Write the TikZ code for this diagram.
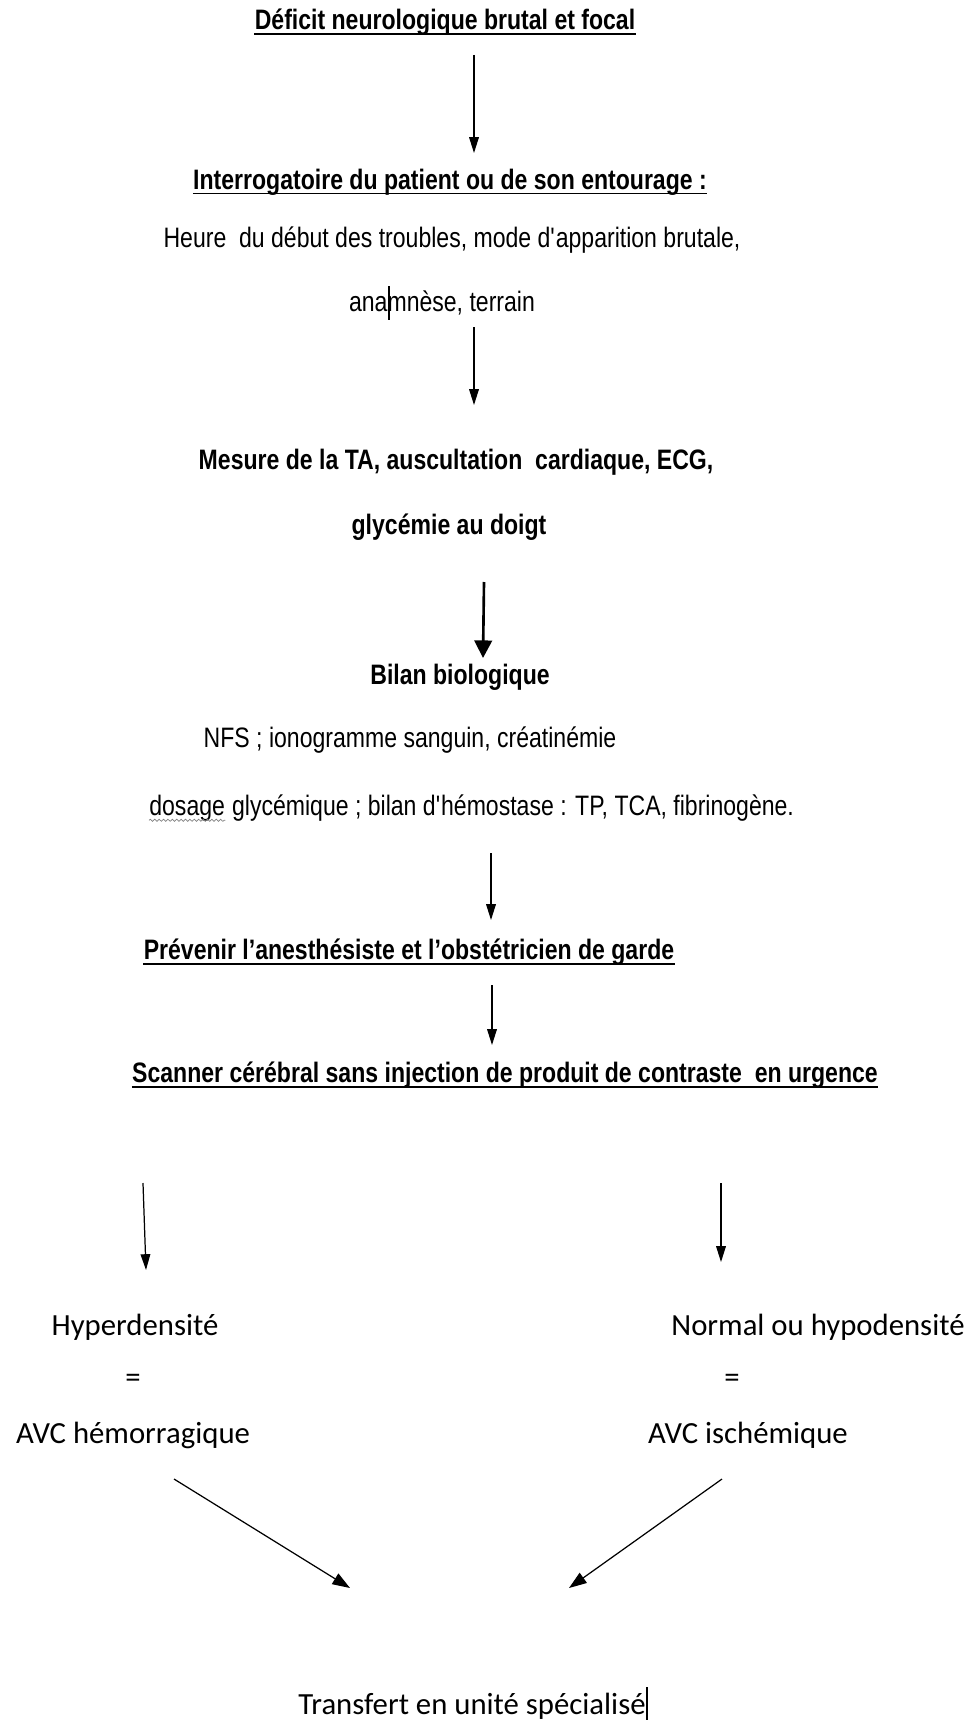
\documentclass[tikz,border=0pt]{standalone}
\usepackage{fontspec}
\setmainfont{Carlito}
\newfontfamily\narrow[FakeStretch=0.82]{Liberation Sans}
\usetikzlibrary{arrows.meta,positioning,decorations.pathmorphing}
\newcommand{\curseur}{\rlap{\rule[-0.3em]{0.08em}{1.2em}}}

\begin{document}
\begin{tikzpicture}[x=0.02cm, y=-0.02cm,
	txt/.style={font=\narrow\fontsize{16}{19}\selectfont, inner sep=0pt},
	txtb/.style={font=\narrow\fontsize{16}{19}\selectfont\bfseries, inner sep=0pt},
	cal/.style={font=\fontsize{17.5}{21}\selectfont, inner sep=0pt},
	fl/.style={-{Triangle[length=9pt,width=5.5pt]}, line width=0.7pt},
	fld/.style={-{Triangle[length=10pt,width=7pt]}, line width=0.7pt},
	flg/.style={-{Triangle[length=10pt,width=10pt]}, line width=1.5pt}]

\useasboundingbox (0,0) rectangle (972,1720);

% texts %{{{2

	\node[txtb] (titre) at (445,22) {Déficit neurologique brutal et focal};
	\node[txtb] (interro) at (450,182) {Interrogatoire du patient ou de son entourage :};
	\node[txt] (heure) at (452,240) {Heure\ \ du début des troubles, mode d\textquotesingle apparition brutale,};
	\node[txt] (anamnese) at (442,303) {ana\curseur mnèse, terrain};
	\node[txtb] (mesure) at (456,462) {Mesure de la TA, auscultation\ \ cardiaque, ECG,};
	\node[txtb] (glycemie) at (449,527) {glycémie au doigt};
	\node[txtb] (bilan) at (460,677) {Bilan biologique};
	\node[txt] (nfs) at (410,740) {NFS ; ionogramme sanguin, créatinémie};
	\node[txt, anchor=base west] (dosage) at (149,815) {dosage};
	\node[txt, base right=0pt of dosage] (dosrest) {\ glycémique ; bilan d\textquotesingle hémostase : TP, TCA, fibrinogène.};
	\node[txtb] (prevenir) at (409,952) {Prévenir l’anesthésiste et l’obstétricien de garde};
	\node[txtb] (scanner) at (505,1075) {Scanner cérébral sans injection de produit de contraste\ \ en urgence};

	\node[cal] (hyper) at (135,1327) {Hyperdensité};
	\node[cal] (egal1) at (133,1381) {=};
	\node[cal] (hemo) at (133,1435) {AVC hémorragique};
	\node[cal] (normal) at (818,1327) {Normal ou hypodensité};
	\node[cal] (egal2) at (732,1381) {=};
	\node[cal] (ischem) at (748,1435) {AVC ischémique};
	\node[cal] (transfert) at (472,1705) {Transfert en unité spécialisé\curseur};

% underlines %{{{2

	\foreach \n in {titre,interro,prevenir,scanner}
	{ \draw[line width=0.9pt] ([yshift=-2.5pt]\n.base west) -- ([yshift=-2.5pt]\n.base east); }

	\draw[gray, line width=0.4pt, decorate, decoration={snake, amplitude=0.6pt, segment length=2.5pt}]
	([yshift=-3pt]dosage.base west) -- ([yshift=-3pt]dosage.base east);

% arrows %{{{2

	\coordinate (f1a) at (474,55);   \coordinate (f1b) at (474,153);
	\coordinate (f2a) at (474,327);  \coordinate (f2b) at (474,405);
	\coordinate (f3a) at (484,582);  \coordinate (f3b) at (483,658);
	\coordinate (f4a) at (491,853);  \coordinate (f4b) at (491,920);
	\coordinate (f5a) at (492,985);  \coordinate (f5b) at (492,1045);
	\coordinate (f6a) at (143,1183); \coordinate (f6b) at (146,1270);
	\coordinate (f7a) at (721,1183); \coordinate (f7b) at (721,1262);
	\coordinate (f8a) at (174,1479); \coordinate (f8b) at (350,1588);
	\coordinate (f9a) at (722,1479); \coordinate (f9b) at (569,1588);

	\foreach \i in {1,2,4,5,6,7} { \draw[fl] (f\i a) -- (f\i b); }

	\draw[fld] (f8a) -- (f8b);
	\draw[fld] (f9a) -- (f9b);

	\draw[flg] (f3a) -- (f3b);

% closing %{{{2

\end{tikzpicture}
\end{document}
